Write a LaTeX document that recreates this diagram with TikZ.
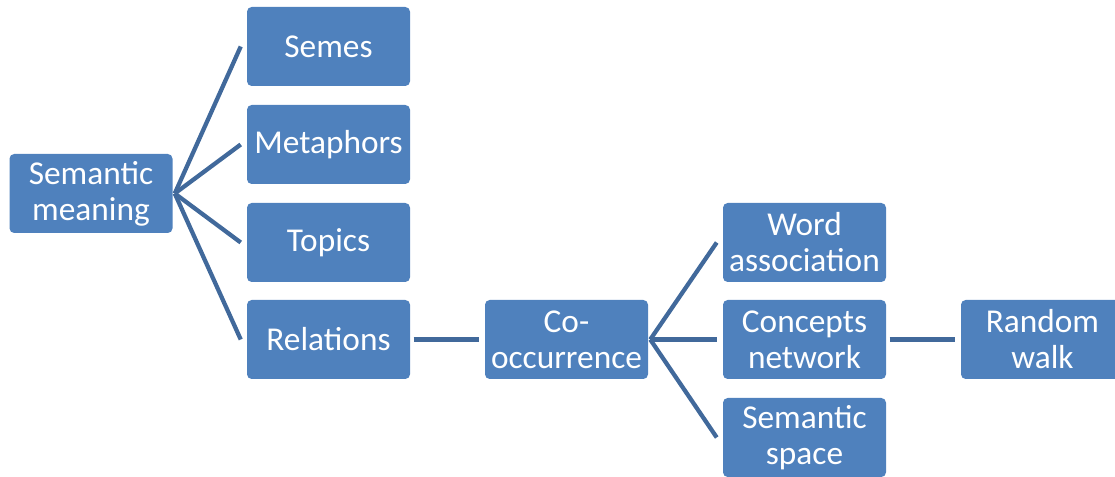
\documentclass[tikz,border=0pt]{standalone}
\usepackage{fontspec}
\setmainfont{Carlito}
\definecolor{boxfill}{HTML}{4F81BD}
\definecolor{linkcol}{HTML}{41699B}
\begin{document}
\begin{tikzpicture}[x=0.75pt,y=-0.75pt,
  item/.style={fill=boxfill, draw=none, rounded corners=3.5pt, text=white,
    minimum width=122.25pt, minimum height=59.25pt, inner sep=0pt,
    align=center, font=\fontsize{25pt}{27pt}\selectfont},
  link/.style={draw=linkcol, line width=3.2pt}]
\useasboundingbox (0,0) rectangle (1115,477);
% boxes
\node[item] (sm) at (91,193.5) {Semantic\\meaning};
\node[item] (semes) at (328.5,46.5) {Semes};
\node[item] (meta) at (328.5,144.5) {Metaphors};
\node[item] (topics) at (328.5,242.5) {Topics};
\node[item] (rel) at (328.5,339.5) {Relations};
\node[item] (cooc) at (566.5,339.5) {Co-\\occurrence};
\node[item] (word) at (804.5,242.5) {Word\\association};
\node[item] (conc) at (804.5,339.5) {Concepts\\network};
\node[item] (space) at (804.5,437.5) {Semantic\\space};
\node[item] (walk) at (1042.5,339.5) {Random\\walk};
% connectors
\foreach \c in {semes,meta,topics,rel}
  \draw[link] ([xshift=1.5pt]sm.east) -- ([xshift=-4.5pt]\c.west);
\draw[link] ([xshift=2.5pt]rel.east) -- ([xshift=-4.5pt]cooc.west);
\foreach \c in {word,conc,space}
  \draw[link] ([xshift=1.5pt]cooc.east) -- ([xshift=-4.5pt]\c.west);
\draw[link] ([xshift=2.5pt]conc.east) -- ([xshift=-4.5pt]walk.west);
\end{tikzpicture}
\end{document}
